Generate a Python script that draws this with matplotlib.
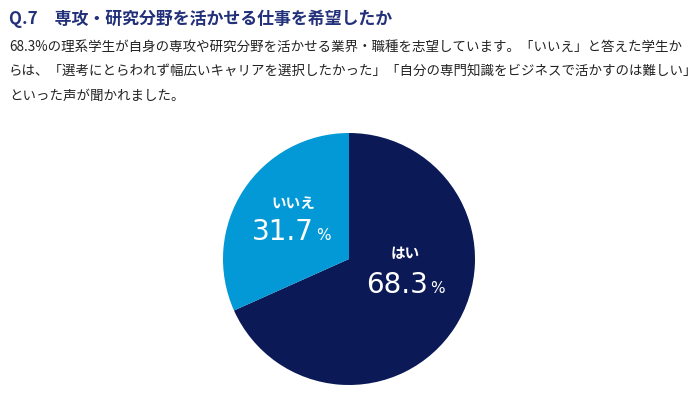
import matplotlib
matplotlib.use("Agg")
import matplotlib.pyplot as plt

plt.rcParams['font.family'] = ['Noto Sans CJK JP', 'DejaVu Sans']

categories = ["はい", "いいえ"]
values = [68.3, 31.7]
colors = ["#0b1a57", "#0399d6"]

title = "Q.7　専攻・研究分野を活かせる仕事を希望したか"
body = [
    "68.3%の理系学生が自身の専攻や研究分野を活かせる業界・職種を志望しています。「いいえ」と答えた学生か",
    "らは、「選考にとらわれず幅広いキャリアを選択したかった」「自分の専門知識をビジネスで活かすのは難しい」",
    "といった声が聞かれました。",
]

W, H = 699, 398
fig = plt.figure(figsize=(W/100, H/100), dpi=100)

def px(x, y):
    return x / W, 1 - y / H

fig.text(*px(9, 19), title, fontsize=12.2, fontweight='bold', color="#23307a", va='center', ha='left')
for i, line in enumerate(body):
    fig.text(*px(9, 47 + i * 24.5), line, fontsize=9.7, color="#222222", va='center', ha='left')

cx, cy, r = 349, 259, 126
ax = fig.add_axes([(cx - r) / W, 1 - (cy + r) / H, 2 * r / W, 2 * r / H])
ax.pie(values, colors=colors, startangle=90, counterclock=False, radius=1,
       wedgeprops=dict(linewidth=0))
ax.set_xlim(-1, 1)
ax.set_ylim(-1, 1)
ax.set_aspect('equal')
ax.axis('off')

# (label x, label y, number right edge x, number baseline y)
label_pos = {"はい": (0.444, 0.048, 0.627, -0.27), "いいえ": (-0.444, 0.444, -0.278, 0.151)}
for cat, val in zip(categories, values):
    x, yl, xn, yn = label_pos[cat]
    ax.text(x, yl, cat, ha='center', va='center', fontsize=10.5, fontweight='bold', color='white')
    ax.text(xn, yn, f"{val:.1f}", ha='right', va='baseline', fontsize=20,
            color='white', family='DejaVu Sans')
    ax.text(xn + 0.02, yn, "%", ha='left', va='baseline', fontsize=11,
            color='white', family='DejaVu Sans')

fig.savefig("out.png", dpi=100)
